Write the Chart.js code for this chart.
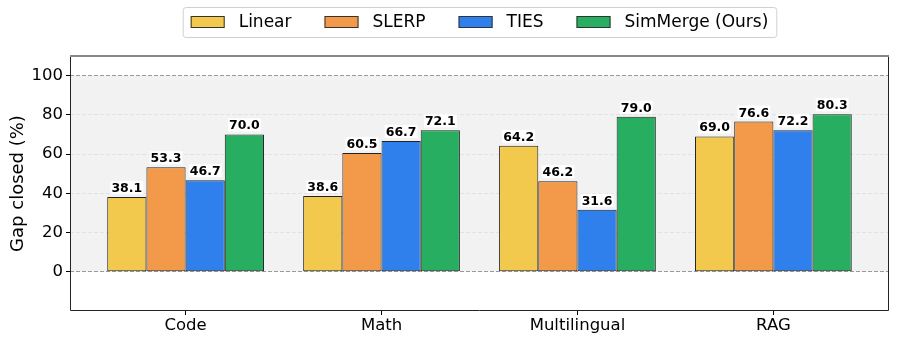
<!DOCTYPE html>
<html>
<head>
<meta charset="utf-8">
<script src="https://cdn.jsdelivr.net/npm/chart.js@4.4.1/dist/chart.umd.min.js"></script>
<style>
  body { margin: 0; background: #fff; }
  #wrap { width: 897px; height: 341px; }
</style>
</head>
<body>
<div id="wrap"><canvas id="myChart"></canvas></div>
<script>
const categories = ['Code', 'Math', 'Multilingual', 'RAG'];
const methods = ['Linear', 'SLERP', 'TIES', 'SimMerge (Ours)'];
const linearVals = [38.1, 38.6, 64.2, 69.0];
const slerpVals = [53.3, 60.5, 46.2, 76.6];
const tiesVals = [46.7, 66.7, 31.6, 72.2];
const simmergeVals = [70.0, 72.1, 79.0, 80.3];
const yTicks = [0, 20, 40, 60, 80, 100];
const colors = ['#f2c94c', '#f2994a', '#2f80ed', '#27ae60'];

const font = 'DejaVu Sans';

function toPoints(vals) {
    return vals.map((v, i) => ({ x: i, y: v }));
}

// gray band between 0 and 100, drawn before the grid
const bandPlugin = {
    id: 'band',
    beforeDraw(chart) {
        const { ctx, chartArea, scales } = chart;
        const y0 = scales.y.getPixelForValue(0);
        const y1 = scales.y.getPixelForValue(100);
        ctx.save();
        ctx.fillStyle = '#f2f2f2';
        ctx.fillRect(chartArea.left, y1, chartArea.right - chartArea.left, y0 - y1);
        ctx.restore();
    }
};

// value labels with white box + axes frame
const labelPlugin = {
    id: 'valueLabels',
    afterDatasetsDraw(chart) {
        const ctx = chart.ctx;
        ctx.save();
        ctx.font = 'bold 12.5px "' + font + '"';
        ctx.textAlign = 'center';
        ctx.textBaseline = 'alphabetic';
        chart.data.datasets.forEach((ds, di) => {
            chart.getDatasetMeta(di).data.forEach((bar, i) => {
                const txt = ds.data[i].y.toFixed(1);
                const w = ctx.measureText(txt).width;
                const base = bar.y - 5;
                ctx.fillStyle = '#fff';
                ctx.fillRect(bar.x - w / 2 - 1, base - 11, w + 2, 13);
                ctx.fillStyle = '#000';
                ctx.fillText(txt, bar.x, base);
            });
        });
        // frame
        const a = chart.chartArea;
        ctx.lineWidth = 1;
        ctx.strokeStyle = '#222';
        ctx.beginPath();
        ctx.moveTo(a.left + 0.5, a.top);
        ctx.lineTo(a.left + 0.5, a.bottom - 0.5);
        ctx.lineTo(a.right - 0.5, a.bottom - 0.5);
        ctx.lineTo(a.right - 0.5, a.top);
        ctx.stroke();
        ctx.strokeStyle = '#888';
        ctx.lineWidth = 2;
        ctx.beginPath();
        ctx.moveTo(a.left, a.top);
        ctx.lineTo(a.right, a.top);
        ctx.stroke();
        ctx.restore();
    }
};

// legend row above the plot
const legendPlugin = {
    id: 'topLegend',
    afterDraw(chart) {
        const ctx = chart.ctx;
        const a = chart.chartArea;
        ctx.save();
        ctx.font = '17px "' + font + '"';
        const boxW = 34, boxH = 12, gap = 14, itemGap = 33;
        const widths = methods.map(m => boxW + gap + ctx.measureText(m).width);
        const total = widths.reduce((s, w) => s + w, 0) + itemGap * (methods.length - 1);
        let x = (a.left + a.right) / 2 - total / 2;
        const cy = 22;
        // frame
        ctx.fillStyle = '#fff';
        ctx.strokeStyle = '#d0d0d0';
        ctx.lineWidth = 1;
        ctx.beginPath();
        ctx.roundRect(x - 7.5, 7.5, total + 16, 30, 3);
        ctx.fill();
        ctx.stroke();
        ctx.textBaseline = 'middle';
        ctx.textAlign = 'left';
        methods.forEach((m, i) => {
            ctx.fillStyle = colors[i];
            ctx.fillRect(x, cy - boxH / 2, boxW, boxH);
            ctx.strokeStyle = '#333';
            ctx.strokeRect(x + 0.5, cy - boxH / 2 + 0.5, boxW - 1, boxH - 1);
            ctx.fillStyle = '#000';
            ctx.fillText(m, x + boxW + gap, cy + 1);
            x += widths[i] + itemGap;
        });
        ctx.restore();
    }
};

const allVals = [linearVals, slerpVals, tiesVals, simmergeVals];

const data = {
    datasets: methods.map((m, i) => ({
        label: m,
        data: toPoints(allVals[i]),
        backgroundColor: colors[i],
        borderColor: '#222',
        borderWidth: 1,
        borderSkipped: false,
        categoryPercentage: 0.8,
        barPercentage: 1.0
    }))
};

const config = {
    type: 'bar',
    data: data,
    options: {
        responsive: true,
        maintainAspectRatio: false,
        animation: false,
        layout: { padding: { top: 56, right: 8, left: 0, bottom: 0 } },
        plugins: {
            legend: { display: false },
            tooltip: { enabled: false }
        },
        scales: {
            x: {
                type: 'linear',
                min: -0.59,
                max: 3.59,
                offset: false,
                afterBuildTicks: function (scale) {
                    scale.ticks = categories.map((c, i) => ({ value: i }));
                },
                afterFit: function (scale) { scale.height = 30; },
                ticks: {
                    includeBounds: false,
                    stepSize: 1,
                    padding: 1,
                    color: '#000',
                    font: { family: font, size: 16.5 },
                    callback: function (v) { return categories[v]; }
                },
                grid: {
                    offset: false,
                    drawOnChartArea: false,
                    drawTicks: true,
                    tickLength: 4,
                    tickColor: '#000'
                },
                border: { display: false }
            },
            y: {
                min: -20,
                max: 110,
                afterBuildTicks: function (scale) {
                    scale.ticks = yTicks.map(v => ({ value: v }));
                },
                afterFit: function (scale) { scale.width = 70; },
                ticks: {
                    padding: 3,
                    color: '#000',
                    font: { family: font, size: 16.5 }
                },
                title: {
                    display: true,
                    text: 'Gap closed (%)',
                    color: '#000',
                    font: { family: font, size: 18 },
                    padding: { top: 8, bottom: 0 }
                },
                grid: {
                    color: function (ctx) {
                        const v = ctx.tick ? ctx.tick.value : null;
                        return (v === 0 || v === 100) ? '#999' : '#e2e2e2';
                    },
                    lineWidth: 1,
                    tickLength: 4,
                    tickColor: '#000'
                },
                border: { display: false, dash: [4, 2] }
            }
        }
    },
    plugins: [bandPlugin, labelPlugin, legendPlugin]
};

const myChart = new Chart(document.getElementById('myChart').getContext('2d'), config);
</script>
</body>
</html>
